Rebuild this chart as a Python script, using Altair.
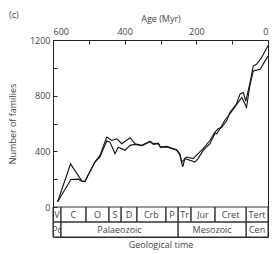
import altair as alt
import pandas as pd

# ---- data ----
ages_a = [587, 551, 520, 511, 483, 469, 450, 436, 422, 408, 385, 371, 352, 329, 320, 306, 300, 283, 269, 255,
          246, 241, 227, 209, 195, 181, 162, 148, 139, 129, 115, 106, 88, 78, 69, 62, 50, 41, 32, 18, 8, 0]
fam_a = [38, 310, 188, 183, 323, 371, 502, 478, 490, 455, 498, 455, 443, 474, 455, 459, 430, 436, 423, 412,
         383, 323, 359, 348, 383, 419, 478, 538, 562, 573, 621, 681, 740, 812, 823, 760, 895, 1014, 1026, 1073, 1121, 1160]
ages_b = [587, 550, 529, 520, 511, 483, 469, 450, 441, 427, 418, 399, 385, 371, 352, 329, 320, 306, 300, 283,
          269, 255, 246, 238, 232, 204, 195, 181, 162, 148, 143, 134, 120, 106, 88, 73, 60, 50, 41, 22, 8, 0]
fam_b = [38, 198, 200, 185, 183, 323, 360, 474, 466, 383, 430, 407, 443, 450, 440, 468, 450, 455, 428, 432,
         420, 408, 375, 288, 348, 323, 348, 407, 455, 530, 526, 562, 625, 670, 735, 788, 716, 880, 978, 990, 1050, 1085]

periods = ["V", "C", "O", "S", "D", "Crb", "P", "Tr", "Jur", "Cret", "Tert"]
period_start = [600, 578, 508, 444, 410, 366, 285, 251, 215, 148, 61]
period_end = [578, 508, 444, 410, 366, 285, 251, 215, 148, 61, 0]
eras = ["Pc", "Palaeozoic", "Mesozoic", "Cen"]
era_start = [600, 578, 251, 61]
era_end = [578, 251, 61, 0]

x_labels = [600, 400, 200, 0]
x_ticks = [600, 500, 400, 300, 200, 100, 0]
y_labels = [0, 400, 800, 1200]
y_ticks = [0, 200, 400, 600, 800, 1000, 1200]

# ---- tables ----
lines_df = pd.concat([
    pd.DataFrame({"age": ages_a, "families": fam_a, "series": "a"}),
    pd.DataFrame({"age": ages_b, "families": fam_b, "series": "b"}),
])
table_df = pd.concat([
    pd.DataFrame({"label": periods, "start": period_start, "end": period_end, "row": "period"}),
    pd.DataFrame({"label": eras, "start": era_start, "end": era_end, "row": "era"}),
])

# ---- layout ----
W = 215
PLOT_H = 167
ROW_H = 15
H = PLOT_H + 2 * ROW_H
FONT = "Open Sans"
TXT = "#444444"

x_scale = alt.Scale(domain=[600, 0], nice=False, zero=False)
y_scale = alt.Scale(domain=[0, 1200], range=[PLOT_H, 0], nice=False, zero=False)
row_scale = alt.Scale(domain=["period", "era"], range=[PLOT_H, H], paddingInner=0, paddingOuter=0)

lines = alt.Chart(lines_df).mark_line(color="#111111", strokeWidth=1.1).encode(
    x=alt.X("age:Q", scale=x_scale,
            axis=alt.Axis(orient="top", values=x_labels, ticks=False, domain=False, grid=False,
                          labelPadding=4, format="d", title="Age (Myr)", titlePadding=4)),
    y=alt.Y("families:Q", scale=y_scale,
            axis=alt.Axis(orient="left", values=y_labels, ticks=False, domain=False, grid=False,
                          labelPadding=3, format="d", title="Number of families", titlePadding=12)),
    detail="series:N",
)

tick_layer = alt.Chart(lines_df).mark_line(opacity=0).encode(
    x=alt.X("age:Q", scale=x_scale,
            axis=alt.Axis(orient="top", offset=-4, tickSize=4, values=x_ticks, labels=False,
                          domain=False, grid=False, title="", tickColor="#222222")),
    y=alt.Y("families:Q", scale=y_scale,
            axis=alt.Axis(orient="left", offset=-4, tickSize=4, values=y_ticks, labels=False,
                          domain=False, grid=False, title="", tickColor="#222222")),
    detail="series:N",
)

cells = alt.Chart(table_df).mark_rect(fillOpacity=0, stroke="#333333", strokeWidth=1).encode(
    x=alt.X("start:Q", scale=x_scale,
            axis=alt.Axis(orient="bottom", labels=False, ticks=False, domain=False, grid=False,
                          labelPadding=0, title="Geological time", titlePadding=3)),
    x2="end:Q",
    y=alt.Y("row:N", scale=row_scale, axis=None),
)

cell_text = alt.Chart(table_df).transform_calculate(
    mid="(datum.start + datum.end) / 2"
).mark_text(font=FONT, fontSize=9, color=TXT).encode(
    x=alt.X("mid:Q", scale=x_scale, axis=None),
    y=alt.Y("row:N", scale=row_scale, axis=None),
    text="label:N",
)

chart = alt.layer(lines, tick_layer, cells, cell_text).resolve_scale(
    x="independent", y="independent"
).properties(
    width=W,
    height=H,
    autosize=alt.AutoSizeParams(type="none"),
    padding={"left": 53, "top": 40, "right": 10, "bottom": 17},
    title=alt.TitleParams("(c)", anchor="start", frame="group", fontSize=9, fontWeight="normal",
                          font=FONT, color=TXT, dx=-44, dy=10),
).configure_view(
    stroke="#222222", strokeWidth=1
).configure_axis(
    labelFont=FONT, labelFontSize=9, labelColor=TXT,
    titleFont=FONT, titleFontSize=9, titleFontWeight="normal", titleColor=TXT,
)

chart.save("out.html", embed_options={"renderer": "svg", "actions": False})
